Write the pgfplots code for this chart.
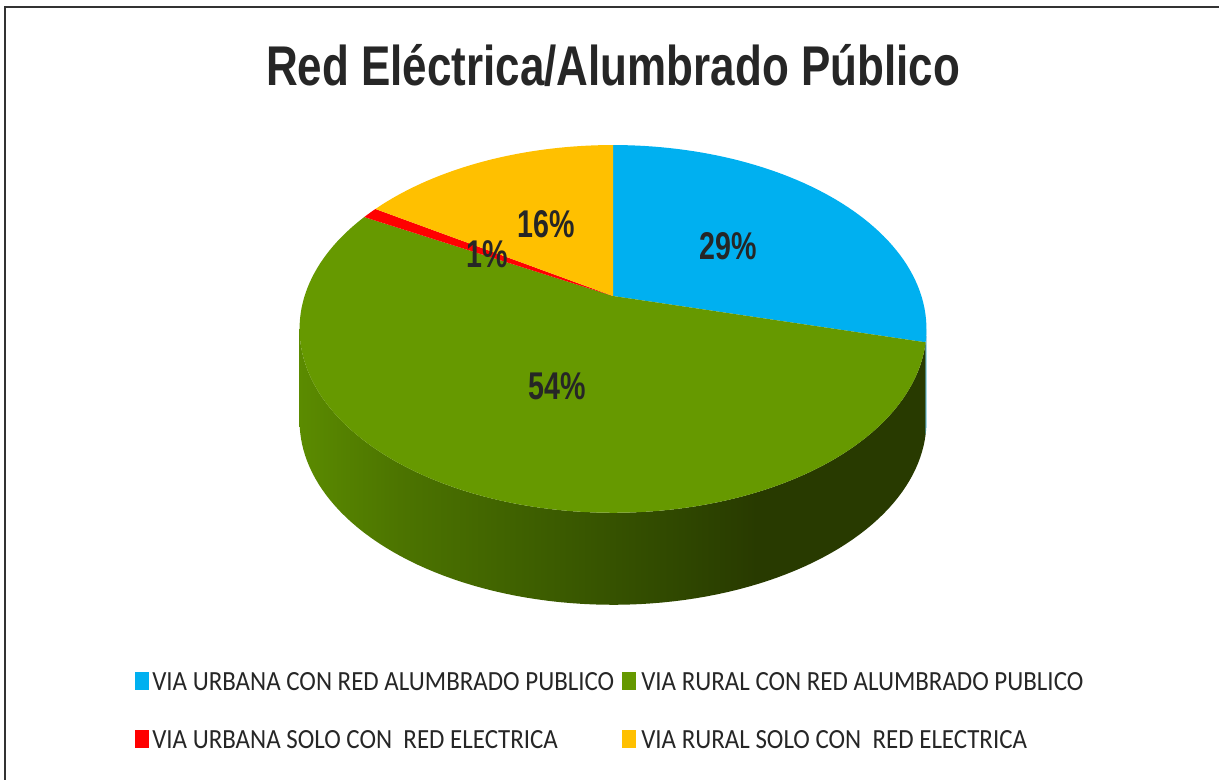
\documentclass[border=0pt]{standalone}
\usepackage{fontspec}
\setmainfont{Liberation Sans}
\newfontfamily\legfont{Carlito}
\usepackage{pgfplots}
\usepackage{pgfplotstable}
\pgfplotsset{compat=1.18}
\definecolor{cblue}{HTML}{00B0F0}
\definecolor{cgreen}{HTML}{669900}
\definecolor{cred}{HTML}{FF0000}
\definecolor{cyellow}{HTML}{FFC000}
\definecolor{ctext}{HTML}{262626}
\definecolor{cframe}{HTML}{333333}
\definecolor{sideA}{HTML}{5B8B00}
\definecolor{sideB}{HTML}{4C7400}
\definecolor{sideC}{HTML}{3F6100}
\definecolor{sideD}{HTML}{2F4700}
\definecolor{sideE}{HTML}{283A00}
\definecolor{sideBlue}{HTML}{0085B5}
\pgfdeclarehorizontalshading{sidewall}{100bp}{color(0bp)=(sideA); color(25bp)=(sideA); color(33bp)=(sideB); color(42.5bp)=(sideC); color(55.5bp)=(sideD); color(61.5bp)=(sideE); color(75bp)=(sideE); color(100bp)=(sideE)}

\pgfplotstableread{
id value
urbanaAlumbrado 29
ruralAlumbrado 54
urbanaElectrica 1
ruralElectrica 16
}\piedata

% projection of the pie's top face (pixel coordinates of the picture)
\pgfmathdeclarefunction{px}{1}{\pgfmathparse{613+308.4*cos(#1)/(1+0.179*sin(#1))}}
\pgfmathdeclarefunction{py}{1}{\pgfmathparse{(296-125*sin(#1))/(1+0.179*sin(#1))}}

\begin{document}
\begin{tikzpicture}
\pgfplotstablegetelem{0}{value}\of\piedata \pgfmathsetmacro\va{\pgfplotsretval}
\pgfplotstablegetelem{1}{value}\of\piedata \pgfmathsetmacro\vb{\pgfplotsretval}
\pgfplotstablegetelem{2}{value}\of\piedata \pgfmathsetmacro\vc{\pgfplotsretval}
\pgfplotstablegetelem{3}{value}\of\piedata \pgfmathsetmacro\vd{\pgfplotsretval}
\pgfmathsetmacro\aA{90}
\pgfmathsetmacro\aB{\aA-3.6*\va}
\pgfmathsetmacro\aC{\aB-3.6*\vb}
\pgfmathsetmacro\aD{\aC-3.6*\vc}
\pgfmathsetmacro\aE{\aD-3.6*\vd}
\begin{axis}[
  width=914.25pt, height=585pt, scale only axis,
  xmin=0, xmax=1219, ymin=0, ymax=780, y dir=reverse,
  hide axis, clip=false]
% side wall
\shade[shading=sidewall]
  plot[domain=\aB:-169.7, samples=90, variable=\t] ({px(\t)},{py(\t)})
  -- plot[domain=-169.7:\aB, samples=90, variable=\t] ({px(\t)},{py(\t)+92}) -- cycle;
\fill[sideBlue]
  plot[domain=-10.3:\aB, samples=10, variable=\t] ({px(\t)},{py(\t)})
  -- plot[domain=\aB:-10.3, samples=10, variable=\t] ({px(\t)},{py(\t)+92}) -- cycle;
% top face slices
\fill[cblue] (613,296) -- plot[domain=\aA:\aB, samples=60, variable=\t] ({px(\t)},{py(\t)}) -- cycle;
\fill[cgreen] (613,296) -- plot[domain=\aB:\aC, samples=120, variable=\t] ({px(\t)},{py(\t)}) -- cycle;
\fill[cred] (613,296) -- plot[domain=\aC:\aD, samples=5, variable=\t] ({px(\t)},{py(\t)}) -- cycle;
\fill[cyellow] (613,296) -- plot[domain=\aD:\aE, samples=40, variable=\t] ({px(\t)},{py(\t)}) -- cycle;
% data labels
\node[anchor=base, text=ctext, font=\fontsize{29}{30}\selectfont\bfseries] at (728,260) {\scalebox{0.74}[1]{29\%}};
\node[anchor=base, text=ctext, font=\fontsize{29}{30}\selectfont\bfseries] at (557,399) {\scalebox{0.74}[1]{54\%}};
\node[anchor=base, text=ctext, font=\fontsize{29}{30}\selectfont\bfseries] at (487,268) {\scalebox{0.74}[1]{1\%}};
\node[anchor=base, text=ctext, font=\fontsize{29}{30}\selectfont\bfseries] at (546,238) {\scalebox{0.74}[1]{16\%}};
% title
\node[anchor=base, text=ctext, font=\fontsize{42}{44}\selectfont\bfseries] at (613,86) {\scalebox{0.785}[1]{Red Eléctrica/Alumbrado Público}};
% legend
\fill[cblue] (135,672) rectangle (149,690);
\fill[cgreen] (622,672) rectangle (636,690);
\fill[cred] (135,730) rectangle (149,748);
\fill[cyellow] (622,730) rectangle (636,748);
\node[anchor=base west, inner sep=0pt, text=ctext, font=\legfont\fontsize{20.8}{22}\selectfont] at (152,690) {\scalebox{0.9}[1]{VIA URBANA CON RED ALUMBRADO PUBLICO}};
\node[anchor=base west, inner sep=0pt, text=ctext, font=\legfont\fontsize{20.8}{22}\selectfont] at (641,690) {\scalebox{0.9}[1]{VIA RURAL CON RED ALUMBRADO PUBLICO}};
\node[anchor=base west, inner sep=0pt, text=ctext, font=\legfont\fontsize{20.8}{22}\selectfont] at (152,748) {\scalebox{0.9}[1]{VIA URBANA SOLO CON\ \ RED ELECTRICA}};
\node[anchor=base west, inner sep=0pt, text=ctext, font=\legfont\fontsize{20.8}{22}\selectfont] at (641,748) {\scalebox{0.9}[1]{VIA RURAL SOLO CON\ \ RED ELECTRICA}};
% frame
\draw[cframe, line width=1.5pt] (5,780) -- (5,7) -- (1219,7);
\end{axis}
\pgfresetboundingbox
\path[use as bounding box] (current axis.south west) rectangle (current axis.north east);
\end{tikzpicture}
\end{document}
